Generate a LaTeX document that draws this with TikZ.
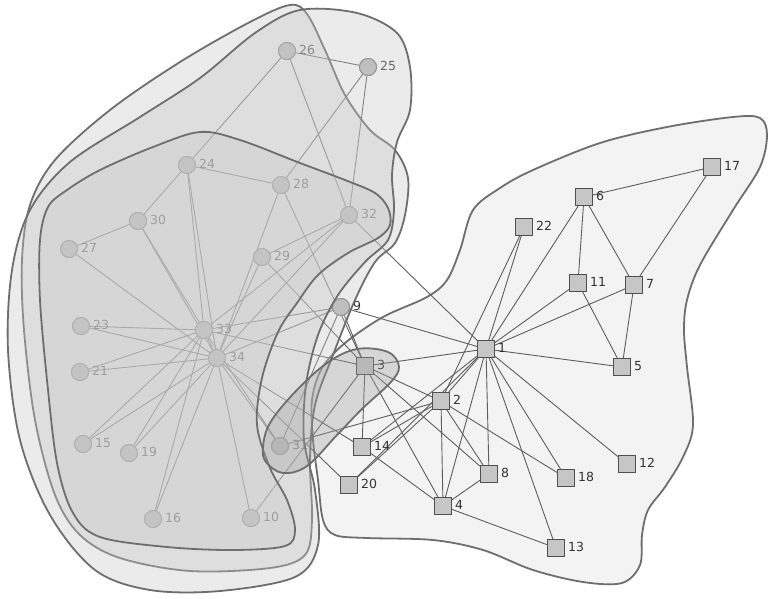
\documentclass[tikz,border=0pt]{standalone}
\usepackage{fontspec}
\setmainfont{DejaVu Sans}
\definecolor{edgec}{HTML}{5E5E5E}
\definecolor{hullc}{HTML}{6E6E6E}
\definecolor{hullf}{HTML}{C8C8C8}
\definecolor{smallf}{HTML}{A0A0A0}
\definecolor{rightf}{HTML}{F3F3F3}
\definecolor{circf}{HTML}{BBBBBB}
\definecolor{circd}{HTML}{7A7A7A}
\definecolor{sqf}{HTML}{C6C6C6}
\definecolor{sqd}{HTML}{505050}
\definecolor{labc}{HTML}{333333}
\begin{document}
\begin{tikzpicture}[x=1pt,y=-1pt,
  hull/.style={draw=hullc, line width=1.8pt, fill=hullf, fill opacity=0.35},
  shull/.style={draw=hullc, line width=1.8pt, fill=smallf, fill opacity=0.35},
  rhull/.style={draw=hullc, line width=1.8pt, fill=rightf},
  edge/.style={draw=edgec, line width=0.9pt},
  circ/.style={circle, minimum size=17pt, inner sep=0pt, fill=circf, draw=circd, line width=1pt},
  sq/.style={rectangle, minimum size=17pt, inner sep=0pt, fill=sqf, draw=sqd, line width=1pt},
  lab/.style={anchor=west, inner sep=1pt, xshift=2pt, yshift=1pt, text=labc, font=\fontsize{12.5}{14}\selectfont}]
\useasboundingbox (0,0) rectangle (768,598);
\fill[white] (0,0) rectangle (768,598);
% right community hull
\draw[rhull] plot[smooth cycle, tension=0.55] coordinates {(323,520) (318,480) (313,440) (312,400) (322,368) (345,343) (383,317) (427,297) (447,280) (460,250) (473,210) (500,188) (533,170) (600,143) (667,127) (733,117) (760,118) (767,135) (760,167) (733,210) (700,265) (687,300) (684,330) (687,367) (693,425) (683,457) (665,487) (648,510) (642,535) (640,565) (622,583) (583,582) (533,570) (483,550) (433,540) (367,538) (335,535)};
% nodes
\node[circ] (n26) at (287,51) {};
\node[circ] (n25) at (368,67) {};
\node[circ] (n24) at (187,165) {};
\node[circ] (n28) at (281,185) {};
\node[circ] (n30) at (138,221) {};
\node[circ] (n32) at (349,215) {};
\node[circ] (n27) at (69,249) {};
\node[circ] (n29) at (262,257) {};
\node[circ] (n9) at (341,307) {};
\node[circ] (n23) at (81,326) {};
\node[circ] (n33) at (204,330) {};
\node[circ] (n34) at (217,358) {};
\node[circ] (n21) at (80,372) {};
\node[circ] (n15) at (83,444) {};
\node[circ] (n19) at (129,453) {};
\node[circ] (n16) at (153,519) {};
\node[circ] (n10) at (251,518) {};
\node[circ] (n31) at (280,446) {};
\node[sq] (n17) at (712,167) {};
\node[sq] (n6) at (584,197) {};
\node[sq] (n22) at (524,227) {};
\node[sq] (n11) at (578,283) {};
\node[sq] (n7) at (634,285) {};
\node[sq] (n1) at (486,349) {};
\node[sq] (n5) at (622,367) {};
\node[sq] (n3) at (365,366) {};
\node[sq] (n2) at (441,401) {};
\node[sq] (n14) at (362,447) {};
\node[sq] (n8) at (489,474) {};
\node[sq] (n18) at (566,478) {};
\node[sq] (n12) at (627,464) {};
\node[sq] (n20) at (349,485) {};
\node[sq] (n4) at (443,506) {};
\node[sq] (n13) at (556,548) {};
% edges
\begin{scope}[on background layer/.style={}]
\foreach \a/\b in {1/2,1/3,1/4,1/5,1/6,1/7,1/8,1/9,1/11,1/12,1/13,1/14,1/18,1/20,1/22,1/32,
  2/3,2/4,2/8,2/14,2/18,2/20,2/22,2/31,
  3/4,3/8,3/9,3/10,3/14,3/28,3/29,3/33,
  4/8,4/13,4/14,5/7,5/11,6/7,6/11,6/17,7/17,
  9/31,9/33,9/34,10/34,14/34,15/33,15/34,16/33,16/34,19/33,19/34,20/34,
  21/33,21/34,23/33,23/34,24/26,24/28,24/30,24/33,24/34,25/26,25/28,25/32,
  26/32,27/30,27/34,28/34,29/32,29/34,30/33,30/34,31/33,31/34,32/33,32/34,33/34}
  \draw[edge] (n\a) -- (n\b);
\end{scope}
% redraw nodes on top of edges
\foreach \n/\p in {26/{(287,51)},25/{(368,67)},24/{(187,165)},28/{(281,185)},30/{(138,221)},32/{(349,215)},27/{(69,249)},29/{(262,257)},9/{(341,307)},23/{(81,326)},33/{(204,330)},34/{(217,358)},21/{(80,372)},15/{(83,444)},19/{(129,453)},16/{(153,519)},10/{(251,518)},31/{(280,446)}}
  \node[circ] at \p {};
\foreach \n/\p in {17/{(712,167)},6/{(584,197)},22/{(524,227)},11/{(578,283)},7/{(634,285)},1/{(486,349)},5/{(622,367)},3/{(365,366)},2/{(441,401)},14/{(362,447)},8/{(489,474)},18/{(566,478)},12/{(627,464)},20/{(349,485)},4/{(443,506)},13/{(556,548)}}
  \node[sq] at \p {};
% labels
\foreach \n in {1,...,34}
  \node[lab] (l\n) at (n\n.east) {\n};
% left hulls (overlaid, translucent)
\draw[hull] plot[smooth cycle, tension=0.55] coordinates {(290,5) (307,14) (325,50) (345,95) (370,130) (395,150) (408,178) (405,215) (395,243) (375,262) (355,300) (333,355) (315,405) (310,460) (312,520) (305,555) (270,568) (190,571) (120,558) (80,535) (55,495) (35,420) (24,330) (22,260) (30,205) (55,160) (110,110) (180,62) (250,22)};
\draw[hull] plot[smooth cycle, tension=0.55] coordinates {(300,10) (357,13) (397,33) (410,67) (410,110) (397,142) (392,175) (394,210) (388,240) (365,262) (338,295) (318,335) (306,385) (304,440) (315,490) (318,545) (295,577) (220,591) (150,590) (95,570) (50,515) (20,440) (8,350) (12,270) (30,210) (70,162) (140,117) (200,78) (255,33)};
\draw[hull] plot[smooth cycle, tension=0.55] coordinates {(200,132) (240,140) (300,163) (345,180) (375,193) (388,208) (390,225) (378,238) (348,253) (318,275) (297,303) (278,332) (262,378) (257,425) (270,468) (287,500) (295,530) (285,546) (233,550) (167,547) (100,537) (73,513) (57,463) (47,380) (40,300) (40,240) (48,207) (67,190) (100,170) (153,147)};
\draw[shull] plot[smooth cycle, tension=0.6] coordinates {(263,447) (270,423) (295,392) (327,363) (357,349) (388,352) (399,367) (390,383) (363,408) (337,435) (307,466) (283,473) (266,462)};
\end{tikzpicture}
\end{document}
